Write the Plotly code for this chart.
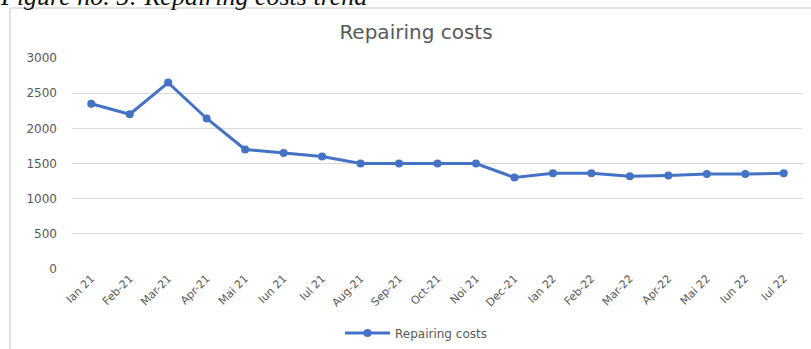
import plotly.graph_objects as go

# Monthly repairing costs, Jan 2021 - Jul 2022
months = ["Ian 21", "Feb-21", "Mar-21", "Apr-21", "Mai 21", "Iun 21", "Iul 21",
          "Aug-21", "Sep-21", "Oct-21", "Noi 21", "Dec-21", "Ian 22", "Feb-22",
          "Mar-22", "Apr-22", "Mai 22", "Iun 22", "Iul 22"]
costs = [2350, 2200, 2650, 2140, 1700, 1650, 1600,
         1500, 1500, 1500, 1500, 1300, 1360, 1360,
         1320, 1330, 1350, 1350, 1360]
y_ticks = [0, 500, 1000, 1500, 2000, 2500, 3000]

W, H = 811, 349
L, R, T, B = 72, 8, 58, 80
PW, PH = W - L - R, H - T - B


def px_x(px):
    return (px - L) / PW


def px_y(py):
    return (H - B - py) / PH


BLUE = "#4472C4"
GREY = "#595959"
FONT = "DejaVu Sans, sans-serif"

fig = go.Figure()
fig.add_trace(go.Scatter(
    x=months, y=costs, mode="lines+markers", name="Repairing costs",
    line=dict(color=BLUE, width=3),
    marker=dict(color=BLUE, size=8),
))

fig.update_layout(
    width=W, height=H,
    margin=dict(l=L, r=R, t=T, b=B, autoexpand=False),
    paper_bgcolor="white", plot_bgcolor="white",
    font=dict(family=FONT, color=GREY, size=10),
    title=dict(text="Repairing costs", x=416 / W, xanchor="center",
               y=1 - 32 / H, yanchor="middle",
               font=dict(size=20, color=GREY, family=FONT)),
    showlegend=True,
    legend=dict(orientation="h", x=px_x(416), xanchor="center",
                y=px_y(333), yanchor="middle", itemwidth=45,
                font=dict(size=12, color=GREY, family=FONT)),
    xaxis=dict(type="category", range=[-0.5, len(months) - 0.5],
               tickangle=-45, showgrid=False, automargin=False,
               showline=False, ticks="", tickfont=dict(size=11, color=GREY)),
    yaxis=dict(range=[0, 3000], tickvals=y_ticks, showgrid=True,
               gridcolor="#d9d9d9", gridwidth=1, zeroline=False,
               automargin=False, showline=False, ticks="",
               ticklabelstandoff=14, tickfont=dict(size=12, color=GREY)),
    shapes=[dict(type="rect", xref="paper", yref="paper",
                 x0=px_x(10), x1=px_x(812), y0=px_y(352), y1=px_y(8),
                 line=dict(color="#d9d9d9", width=1.5), layer="below")],
    annotations=[dict(text="<i>Figure no. 5: Repairing costs trend</i>",
                      xref="paper", yref="paper", x=px_x(-2), xanchor="left",
                      y=px_y(13), yanchor="bottom", showarrow=False,
                      font=dict(family="Liberation Serif, serif", size=26,
                                color="#111111"))],
)

fig.write_html("out.html")
